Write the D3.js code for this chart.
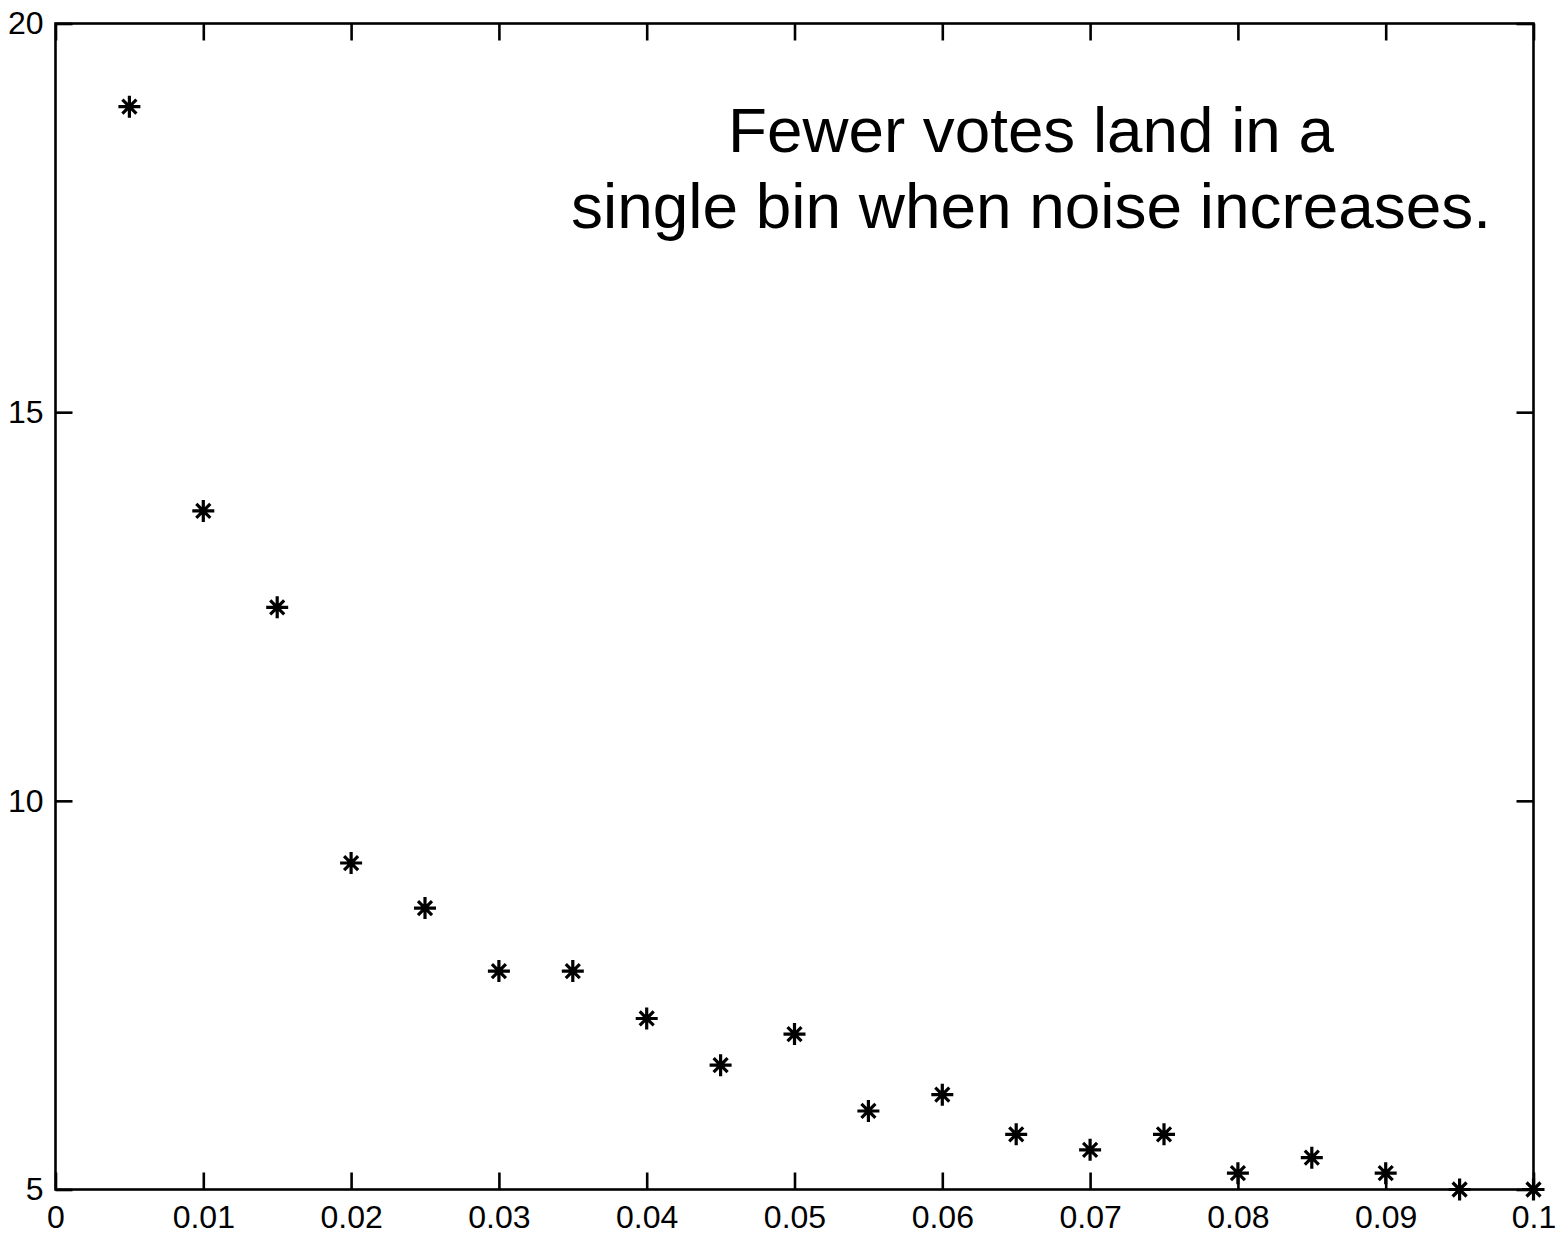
<!DOCTYPE html>
<html>
<head>
<meta charset="utf-8">
<script src="https://cdn.jsdelivr.net/npm/d3@7"></script>
<style>
  body { margin: 0; background: #fff; }
</style>
</head>
<body>
<div id="wrapper"></div>
<script>
// noise level vs. votes in the peak bin
const noiseLevels = [0.005, 0.01, 0.015, 0.02, 0.025, 0.03, 0.035, 0.04, 0.045, 0.05,
                     0.055, 0.06, 0.065, 0.07, 0.075, 0.08, 0.085, 0.09, 0.095, 0.1];
const votes = [18.93, 13.73, 12.49, 9.20, 8.62, 7.81, 7.81, 7.20, 6.60, 7.00,
               6.01, 6.22, 5.71, 5.51, 5.71, 5.21, 5.41, 5.21, 5.00, 5.00];
const xTicks = [0, 0.01, 0.02, 0.03, 0.04, 0.05, 0.06, 0.07, 0.08, 0.09, 0.1];
const yTicks = [5, 10, 15, 20];
const titleLines = ["Fewer votes land in a", "single bin when noise increases."];

const data = noiseLevels.map((x, i) => ({ x: x, y: votes[i] }));

var dimension = {
    width: 1556,
    height: 1239,
    margin: { top: 23.5, left: 55.5, bottom: 49.5, right: 22.5 }
};
dimension.boundedWidth = dimension.width - dimension.margin.left - dimension.margin.right;
dimension.boundedHeight = dimension.height - dimension.margin.top - dimension.margin.bottom;

const svg = d3.select("#wrapper").append("svg")
    .attr("width", dimension.width)
    .attr("height", dimension.height);

const bounded = svg.append("g")
    .attr("transform", `translate(${dimension.margin.left},${dimension.margin.top})`);

const xScaler = d3.scaleLinear().domain([0, 0.1]).range([0, dimension.boundedWidth]);
const yScaler = d3.scaleLinear().domain([5, 20]).range([dimension.boundedHeight, 0]);

const tickLen = 17;
const labelFont = "'Liberation Sans', Arial, sans-serif";

function styleAxis(g, showLabels) {
    g.select(".domain").remove();
    g.selectAll(".tick line").attr("stroke", "#000").attr("stroke-width", 2.6);
    g.selectAll(".tick text")
        .attr("fill", "#000")
        .style("font-family", labelFont)
        .style("font-size", "32px");
    if (!showLabels) g.selectAll(".tick text").remove();
}

// bottom / top (ticks point inward)
bounded.append("g")
    .attr("transform", `translate(0,${dimension.boundedHeight})`)
    .call(d3.axisBottom(xScaler).tickValues(xTicks).tickFormat(d3.format("~g"))
        .tickSizeInner(-tickLen).tickSizeOuter(0).tickPadding(16))
    .call(g => styleAxis(g, true));
bounded.append("g")
    .call(d3.axisTop(xScaler).tickValues(xTicks).tickSizeInner(-tickLen).tickSizeOuter(0))
    .call(g => styleAxis(g, false));

// left / right
bounded.append("g")
    .call(d3.axisLeft(yScaler).tickValues(yTicks)
        .tickSizeInner(-tickLen).tickSizeOuter(0).tickPadding(12))
    .call(g => styleAxis(g, true));
bounded.append("g")
    .attr("transform", `translate(${dimension.boundedWidth},0)`)
    .call(d3.axisRight(yScaler).tickValues(yTicks).tickSizeInner(-tickLen).tickSizeOuter(0))
    .call(g => styleAxis(g, false));

// frame
bounded.append("rect")
    .attr("x", 0).attr("y", 0)
    .attr("width", dimension.boundedWidth)
    .attr("height", dimension.boundedHeight)
    .attr("fill", "none")
    .attr("stroke", "#000")
    .attr("stroke-width", 2.6);

// asterisk markers
const star = "M0,-11V11M-11,0H11M-7,-7L7,7M-7,7L7,-7";
bounded.append("g")
    .selectAll("path")
    .data(data)
    .join("path")
    .attr("transform", d => `translate(${xScaler(d.x)},${yScaler(d.y)})`)
    .attr("d", star)
    .attr("fill", "none")
    .attr("stroke", "#000")
    .attr("stroke-width", 3.2);

// annotation
const widths = [606, 920];
svg.append("g")
    .selectAll("text")
    .data(titleLines)
    .join("text")
    .attr("x", 1031)
    .attr("y", (d, i) => 152 + i * 76)
    .attr("text-anchor", "middle")
    .attr("textLength", (d, i) => widths[i])
    .attr("lengthAdjust", "spacingAndGlyphs")
    .style("font-family", "'Liberation Sans', Arial, sans-serif")
    .style("font-size", "63px")
    .text(d => d);
</script>
</body>
</html>
